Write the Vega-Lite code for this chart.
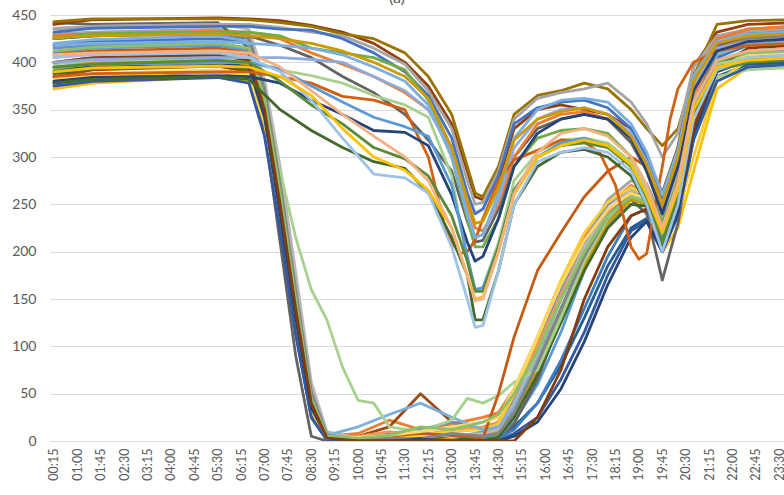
{
"$schema":"https://vega.github.io/schema/vega-lite/v6.json",
"width":734,"height":426,
"autosize":{"type":"none"},
"padding":{"left":50,"top":15,"right":0,"bottom":54},
"background":"white",
"title":{"text":"(a)","fontSize":16,"font":"Lato","fontWeight":"normal","color":"#595959","anchor":"middle","offset":2,"dx":-20},
"config":{"view":{"stroke":null},"font":"Lato"},
"data":{"values":[
{"s":"a1","t":15,"v":418},{"s":"a1","t":90,"v":422},{"s":"a1","t":330,"v":425},{"s":"a1","t":390,"v":420},{"s":"a1","t":420,"v":360},{"s":"a1","t":450,"v":255},{"s":"a1","t":480,"v":140},{"s":"a1","t":510,"v":40},{"s":"a1","t":540,"v":3},{"s":"a1","t":600,"v":0},{"s":"a1","t":660,"v":2},{"s":"a1","t":720,"v":0},{"s":"a1","t":780,"v":5},{"s":"a1","t":840,"v":0},{"s":"a1","t":870,"v":8},{"s":"a1","t":900,"v":35},{"s":"a1","t":945,"v":90},{"s":"a1","t":990,"v":150},{"s":"a1","t":1035,"v":200},{"s":"a1","t":1080,"v":240},{"s":"a1","t":1125,"v":262},{"s":"a1","t":1155,"v":258},{"s":"a1","t":1185,"v":205},{"s":"a1","t":1215,"v":265},{"s":"a1","t":1245,"v":345},{"s":"a1","t":1290,"v":405},{"s":"a1","t":1350,"v":418},{"s":"a1","t":1440,"v":420},
{"s":"a2","t":15,"v":400},{"s":"a2","t":90,"v":405},{"s":"a2","t":330,"v":408},{"s":"a2","t":390,"v":402},{"s":"a2","t":420,"v":345},{"s":"a2","t":450,"v":240},{"s":"a2","t":480,"v":130},{"s":"a2","t":510,"v":35},{"s":"a2","t":540,"v":5},{"s":"a2","t":600,"v":8},{"s":"a2","t":660,"v":22},{"s":"a2","t":720,"v":12},{"s":"a2","t":780,"v":18},{"s":"a2","t":840,"v":25},{"s":"a2","t":870,"v":30},{"s":"a2","t":900,"v":55},{"s":"a2","t":945,"v":110},{"s":"a2","t":990,"v":165},{"s":"a2","t":1035,"v":215},{"s":"a2","t":1080,"v":250},{"s":"a2","t":1125,"v":270},{"s":"a2","t":1155,"v":262},{"s":"a2","t":1185,"v":220},{"s":"a2","t":1215,"v":285},{"s":"a2","t":1245,"v":365},{"s":"a2","t":1290,"v":415},{"s":"a2","t":1350,"v":428},{"s":"a2","t":1440,"v":430},
{"s":"a3","t":15,"v":430},{"s":"a3","t":90,"v":432},{"s":"a3","t":330,"v":435},{"s":"a3","t":390,"v":430},{"s":"a3","t":420,"v":375},{"s":"a3","t":450,"v":280},{"s":"a3","t":480,"v":165},{"s":"a3","t":510,"v":55},{"s":"a3","t":540,"v":8},{"s":"a3","t":600,"v":2},{"s":"a3","t":660,"v":5},{"s":"a3","t":720,"v":8},{"s":"a3","t":780,"v":3},{"s":"a3","t":840,"v":10},{"s":"a3","t":870,"v":15},{"s":"a3","t":900,"v":40},{"s":"a3","t":945,"v":95},{"s":"a3","t":990,"v":160},{"s":"a3","t":1035,"v":210},{"s":"a3","t":1080,"v":255},{"s":"a3","t":1125,"v":275},{"s":"a3","t":1155,"v":272},{"s":"a3","t":1185,"v":235},{"s":"a3","t":1215,"v":300},{"s":"a3","t":1245,"v":375},{"s":"a3","t":1290,"v":425},{"s":"a3","t":1350,"v":432},{"s":"a3","t":1440,"v":435},
{"s":"a4","t":15,"v":372},{"s":"a4","t":90,"v":378},{"s":"a4","t":330,"v":385},{"s":"a4","t":390,"v":380},{"s":"a4","t":420,"v":330},{"s":"a4","t":450,"v":240},{"s":"a4","t":480,"v":130},{"s":"a4","t":510,"v":35},{"s":"a4","t":540,"v":2},{"s":"a4","t":600,"v":0},{"s":"a4","t":660,"v":3},{"s":"a4","t":720,"v":0},{"s":"a4","t":780,"v":6},{"s":"a4","t":840,"v":2},{"s":"a4","t":870,"v":10},{"s":"a4","t":900,"v":45},{"s":"a4","t":945,"v":105},{"s":"a4","t":990,"v":165},{"s":"a4","t":1035,"v":210},{"s":"a4","t":1080,"v":245},{"s":"a4","t":1125,"v":262},{"s":"a4","t":1155,"v":255},{"s":"a4","t":1185,"v":200},{"s":"a4","t":1215,"v":225},{"s":"a4","t":1245,"v":285},{"s":"a4","t":1290,"v":372},{"s":"a4","t":1350,"v":395},{"s":"a4","t":1440,"v":400},
{"s":"a5","t":15,"v":410},{"s":"a5","t":90,"v":415},{"s":"a5","t":330,"v":418},{"s":"a5","t":390,"v":412},{"s":"a5","t":420,"v":355},{"s":"a5","t":450,"v":250},{"s":"a5","t":480,"v":138},{"s":"a5","t":510,"v":38},{"s":"a5","t":540,"v":4},{"s":"a5","t":600,"v":3},{"s":"a5","t":660,"v":0},{"s":"a5","t":720,"v":8},{"s":"a5","t":780,"v":2},{"s":"a5","t":840,"v":6},{"s":"a5","t":870,"v":6},{"s":"a5","t":900,"v":20},{"s":"a5","t":945,"v":60},{"s":"a5","t":990,"v":115},{"s":"a5","t":1035,"v":180},{"s":"a5","t":1080,"v":228},{"s":"a5","t":1125,"v":250},{"s":"a5","t":1155,"v":248},{"s":"a5","t":1185,"v":210},{"s":"a5","t":1215,"v":262},{"s":"a5","t":1245,"v":340},{"s":"a5","t":1290,"v":398},{"s":"a5","t":1350,"v":410},{"s":"a5","t":1440,"v":412},
{"s":"a6","t":15,"v":392},{"s":"a6","t":90,"v":398},{"s":"a6","t":330,"v":400},{"s":"a6","t":390,"v":395},{"s":"a6","t":420,"v":340},{"s":"a6","t":450,"v":235},{"s":"a6","t":480,"v":125},{"s":"a6","t":510,"v":30},{"s":"a6","t":540,"v":3},{"s":"a6","t":600,"v":0},{"s":"a6","t":660,"v":5},{"s":"a6","t":720,"v":3},{"s":"a6","t":780,"v":0},{"s":"a6","t":840,"v":4},{"s":"a6","t":870,"v":5},{"s":"a6","t":900,"v":30},{"s":"a6","t":945,"v":80},{"s":"a6","t":990,"v":135},{"s":"a6","t":1035,"v":188},{"s":"a6","t":1080,"v":232},{"s":"a6","t":1125,"v":258},{"s":"a6","t":1155,"v":252},{"s":"a6","t":1185,"v":205},{"s":"a6","t":1215,"v":250},{"s":"a6","t":1245,"v":330},{"s":"a6","t":1290,"v":392},{"s":"a6","t":1350,"v":405},{"s":"a6","t":1440,"v":408},
{"s":"a7","t":15,"v":378},{"s":"a7","t":90,"v":385},{"s":"a7","t":330,"v":390},{"s":"a7","t":390,"v":385},{"s":"a7","t":420,"v":325},{"s":"a7","t":450,"v":225},{"s":"a7","t":480,"v":115},{"s":"a7","t":510,"v":25},{"s":"a7","t":540,"v":1},{"s":"a7","t":600,"v":0},{"s":"a7","t":660,"v":0},{"s":"a7","t":720,"v":2},{"s":"a7","t":780,"v":0},{"s":"a7","t":840,"v":0},{"s":"a7","t":870,"v":2},{"s":"a7","t":900,"v":15},{"s":"a7","t":945,"v":40},{"s":"a7","t":990,"v":80},{"s":"a7","t":1035,"v":130},{"s":"a7","t":1080,"v":185},{"s":"a7","t":1125,"v":225},{"s":"a7","t":1155,"v":235},{"s":"a7","t":1185,"v":200},{"s":"a7","t":1215,"v":240},{"s":"a7","t":1245,"v":320},{"s":"a7","t":1290,"v":385},{"s":"a7","t":1350,"v":398},{"s":"a7","t":1440,"v":400},
{"s":"a8","t":15,"v":385},{"s":"a8","t":90,"v":392},{"s":"a8","t":330,"v":396},{"s":"a8","t":390,"v":390},{"s":"a8","t":420,"v":338},{"s":"a8","t":450,"v":238},{"s":"a8","t":480,"v":128},{"s":"a8","t":510,"v":32},{"s":"a8","t":540,"v":4},{"s":"a8","t":600,"v":5},{"s":"a8","t":660,"v":15},{"s":"a8","t":720,"v":50},{"s":"a8","t":780,"v":20},{"s":"a8","t":840,"v":12},{"s":"a8","t":870,"v":20},{"s":"a8","t":900,"v":45},{"s":"a8","t":945,"v":95},{"s":"a8","t":990,"v":150},{"s":"a8","t":1035,"v":200},{"s":"a8","t":1080,"v":238},{"s":"a8","t":1125,"v":260},{"s":"a8","t":1155,"v":255},{"s":"a8","t":1185,"v":215},{"s":"a8","t":1215,"v":270},{"s":"a8","t":1245,"v":350},{"s":"a8","t":1290,"v":405},{"s":"a8","t":1350,"v":420},{"s":"a8","t":1440,"v":422},
{"s":"a9","t":15,"v":442},{"s":"a9","t":90,"v":440},{"s":"a9","t":330,"v":442},{"s":"a9","t":390,"v":415},{"s":"a9","t":420,"v":330},{"s":"a9","t":450,"v":210},{"s":"a9","t":480,"v":90},{"s":"a9","t":510,"v":5},{"s":"a9","t":540,"v":0},{"s":"a9","t":600,"v":0},{"s":"a9","t":660,"v":3},{"s":"a9","t":720,"v":0},{"s":"a9","t":780,"v":2},{"s":"a9","t":840,"v":0},{"s":"a9","t":870,"v":0},{"s":"a9","t":900,"v":18},{"s":"a9","t":945,"v":65},{"s":"a9","t":990,"v":130},{"s":"a9","t":1035,"v":190},{"s":"a9","t":1080,"v":235},{"s":"a9","t":1125,"v":255},{"s":"a9","t":1155,"v":240},{"s":"a9","t":1185,"v":170},{"s":"a9","t":1215,"v":230},{"s":"a9","t":1245,"v":320},{"s":"a9","t":1290,"v":390},{"s":"a9","t":1350,"v":405},{"s":"a9","t":1440,"v":408},
{"s":"a10","t":15,"v":395},{"s":"a10","t":90,"v":400},{"s":"a10","t":330,"v":402},{"s":"a10","t":390,"v":398},{"s":"a10","t":420,"v":350},{"s":"a10","t":450,"v":255},{"s":"a10","t":480,"v":145},{"s":"a10","t":510,"v":45},{"s":"a10","t":540,"v":5},{"s":"a10","t":600,"v":2},{"s":"a10","t":660,"v":4},{"s":"a10","t":720,"v":1},{"s":"a10","t":780,"v":3},{"s":"a10","t":840,"v":8},{"s":"a10","t":870,"v":10},{"s":"a10","t":900,"v":30},{"s":"a10","t":945,"v":75},{"s":"a10","t":990,"v":130},{"s":"a10","t":1035,"v":185},{"s":"a10","t":1080,"v":230},{"s":"a10","t":1125,"v":255},{"s":"a10","t":1155,"v":250},{"s":"a10","t":1185,"v":215},{"s":"a10","t":1215,"v":255},{"s":"a10","t":1245,"v":330},{"s":"a10","t":1290,"v":390},{"s":"a10","t":1350,"v":402},{"s":"a10","t":1440,"v":405},
{"s":"a11","t":15,"v":425},{"s":"a11","t":90,"v":428},{"s":"a11","t":330,"v":430},{"s":"a11","t":390,"v":425},{"s":"a11","t":420,"v":370},{"s":"a11","t":450,"v":270},{"s":"a11","t":480,"v":155},{"s":"a11","t":510,"v":50},{"s":"a11","t":540,"v":6},{"s":"a11","t":600,"v":0},{"s":"a11","t":660,"v":2},{"s":"a11","t":720,"v":0},{"s":"a11","t":780,"v":0},{"s":"a11","t":840,"v":3},{"s":"a11","t":870,"v":3},{"s":"a11","t":900,"v":12},{"s":"a11","t":945,"v":40},{"s":"a11","t":990,"v":85},{"s":"a11","t":1035,"v":140},{"s":"a11","t":1080,"v":195},{"s":"a11","t":1125,"v":238},{"s":"a11","t":1155,"v":245},{"s":"a11","t":1185,"v":205},{"s":"a11","t":1215,"v":255},{"s":"a11","t":1245,"v":340},{"s":"a11","t":1290,"v":405},{"s":"a11","t":1350,"v":420},{"s":"a11","t":1440,"v":422},
{"s":"a12","t":15,"v":388},{"s":"a12","t":90,"v":393},{"s":"a12","t":330,"v":397},{"s":"a12","t":390,"v":392},{"s":"a12","t":420,"v":335},{"s":"a12","t":450,"v":232},{"s":"a12","t":480,"v":122},{"s":"a12","t":510,"v":28},{"s":"a12","t":540,"v":2},{"s":"a12","t":600,"v":0},{"s":"a12","t":660,"v":0},{"s":"a12","t":720,"v":3},{"s":"a12","t":780,"v":5},{"s":"a12","t":840,"v":0},{"s":"a12","t":870,"v":4},{"s":"a12","t":900,"v":25},{"s":"a12","t":945,"v":70},{"s":"a12","t":990,"v":125},{"s":"a12","t":1035,"v":180},{"s":"a12","t":1080,"v":225},{"s":"a12","t":1125,"v":250},{"s":"a12","t":1155,"v":248},{"s":"a12","t":1185,"v":210},{"s":"a12","t":1215,"v":258},{"s":"a12","t":1245,"v":335},{"s":"a12","t":1290,"v":392},{"s":"a12","t":1350,"v":405},{"s":"a12","t":1440,"v":408},
{"s":"a13","t":15,"v":415},{"s":"a13","t":90,"v":418},{"s":"a13","t":330,"v":420},{"s":"a13","t":390,"v":415},{"s":"a13","t":420,"v":358},{"s":"a13","t":450,"v":255},{"s":"a13","t":480,"v":142},{"s":"a13","t":510,"v":42},{"s":"a13","t":540,"v":5},{"s":"a13","t":600,"v":3},{"s":"a13","t":660,"v":8},{"s":"a13","t":720,"v":12},{"s":"a13","t":780,"v":20},{"s":"a13","t":840,"v":10},{"s":"a13","t":870,"v":18},{"s":"a13","t":900,"v":45},{"s":"a13","t":945,"v":100},{"s":"a13","t":990,"v":160},{"s":"a13","t":1035,"v":210},{"s":"a13","t":1080,"v":250},{"s":"a13","t":1125,"v":268},{"s":"a13","t":1155,"v":262},{"s":"a13","t":1185,"v":222},{"s":"a13","t":1215,"v":275},{"s":"a13","t":1245,"v":352},{"s":"a13","t":1290,"v":408},{"s":"a13","t":1350,"v":420},{"s":"a13","t":1440,"v":422},
{"s":"a14","t":15,"v":405},{"s":"a14","t":90,"v":410},{"s":"a14","t":330,"v":412},{"s":"a14","t":390,"v":408},{"s":"a14","t":420,"v":352},{"s":"a14","t":450,"v":248},{"s":"a14","t":480,"v":136},{"s":"a14","t":510,"v":36},{"s":"a14","t":540,"v":3},{"s":"a14","t":600,"v":5},{"s":"a14","t":660,"v":10},{"s":"a14","t":720,"v":6},{"s":"a14","t":780,"v":12},{"s":"a14","t":840,"v":15},{"s":"a14","t":870,"v":20},{"s":"a14","t":900,"v":48},{"s":"a14","t":945,"v":100},{"s":"a14","t":990,"v":155},{"s":"a14","t":1035,"v":205},{"s":"a14","t":1080,"v":242},{"s":"a14","t":1125,"v":262},{"s":"a14","t":1155,"v":258},{"s":"a14","t":1185,"v":225},{"s":"a14","t":1215,"v":280},{"s":"a14","t":1245,"v":358},{"s":"a14","t":1290,"v":410},{"s":"a14","t":1350,"v":422},{"s":"a14","t":1440,"v":425},
{"s":"a15","t":15,"v":436},{"s":"a15","t":90,"v":438},{"s":"a15","t":330,"v":440},{"s":"a15","t":390,"v":435},{"s":"a15","t":420,"v":382},{"s":"a15","t":450,"v":290},{"s":"a15","t":480,"v":178},{"s":"a15","t":510,"v":62},{"s":"a15","t":540,"v":10},{"s":"a15","t":600,"v":3},{"s":"a15","t":660,"v":6},{"s":"a15","t":720,"v":10},{"s":"a15","t":780,"v":4},{"s":"a15","t":840,"v":8},{"s":"a15","t":870,"v":12},{"s":"a15","t":900,"v":40},{"s":"a15","t":945,"v":92},{"s":"a15","t":990,"v":150},{"s":"a15","t":1035,"v":205},{"s":"a15","t":1080,"v":245},{"s":"a15","t":1125,"v":265},{"s":"a15","t":1155,"v":262},{"s":"a15","t":1185,"v":225},{"s":"a15","t":1215,"v":290},{"s":"a15","t":1245,"v":370},{"s":"a15","t":1290,"v":420},{"s":"a15","t":1350,"v":430},{"s":"a15","t":1440,"v":432},
{"s":"a16","t":15,"v":380},{"s":"a16","t":90,"v":386},{"s":"a16","t":330,"v":390},{"s":"a16","t":390,"v":386},{"s":"a16","t":420,"v":335},{"s":"a16","t":450,"v":238},{"s":"a16","t":480,"v":128},{"s":"a16","t":510,"v":32},{"s":"a16","t":540,"v":2},{"s":"a16","t":600,"v":0},{"s":"a16","t":660,"v":4},{"s":"a16","t":720,"v":6},{"s":"a16","t":780,"v":10},{"s":"a16","t":840,"v":12},{"s":"a16","t":870,"v":18},{"s":"a16","t":900,"v":50},{"s":"a16","t":945,"v":110},{"s":"a16","t":990,"v":170},{"s":"a16","t":1035,"v":220},{"s":"a16","t":1080,"v":252},{"s":"a16","t":1125,"v":268},{"s":"a16","t":1155,"v":260},{"s":"a16","t":1185,"v":215},{"s":"a16","t":1215,"v":240},{"s":"a16","t":1245,"v":300},{"s":"a16","t":1290,"v":380},{"s":"a16","t":1350,"v":402},{"s":"a16","t":1440,"v":406},
{"s":"a17","t":15,"v":420},{"s":"a17","t":90,"v":424},{"s":"a17","t":330,"v":428},{"s":"a17","t":390,"v":422},{"s":"a17","t":420,"v":368},{"s":"a17","t":450,"v":268},{"s":"a17","t":480,"v":155},{"s":"a17","t":510,"v":48},{"s":"a17","t":540,"v":6},{"s":"a17","t":600,"v":15},{"s":"a17","t":660,"v":28},{"s":"a17","t":720,"v":40},{"s":"a17","t":780,"v":25},{"s":"a17","t":840,"v":12},{"s":"a17","t":870,"v":15},{"s":"a17","t":900,"v":35},{"s":"a17","t":945,"v":85},{"s":"a17","t":990,"v":140},{"s":"a17","t":1035,"v":195},{"s":"a17","t":1080,"v":238},{"s":"a17","t":1125,"v":260},{"s":"a17","t":1155,"v":255},{"s":"a17","t":1185,"v":215},{"s":"a17","t":1215,"v":270},{"s":"a17","t":1245,"v":350},{"s":"a17","t":1290,"v":408},{"s":"a17","t":1350,"v":420},{"s":"a17","t":1440,"v":422},
{"s":"a18","t":15,"v":398},{"s":"a18","t":90,"v":402},{"s":"a18","t":330,"v":404},{"s":"a18","t":390,"v":400},{"s":"a18","t":420,"v":365},{"s":"a18","t":450,"v":285},{"s":"a18","t":480,"v":215},{"s":"a18","t":510,"v":160},{"s":"a18","t":540,"v":128},{"s":"a18","t":570,"v":78},{"s":"a18","t":600,"v":43},{"s":"a18","t":630,"v":40},{"s":"a18","t":660,"v":15},{"s":"a18","t":720,"v":10},{"s":"a18","t":780,"v":22},{"s":"a18","t":810,"v":45},{"s":"a18","t":840,"v":40},{"s":"a18","t":870,"v":48},{"s":"a18","t":900,"v":62},{"s":"a18","t":945,"v":75},{"s":"a18","t":990,"v":130},{"s":"a18","t":1035,"v":190},{"s":"a18","t":1080,"v":235},{"s":"a18","t":1125,"v":260},{"s":"a18","t":1155,"v":258},{"s":"a18","t":1185,"v":225},{"s":"a18","t":1215,"v":265},{"s":"a18","t":1245,"v":330},{"s":"a18","t":1290,"v":385},{"s":"a18","t":1350,"v":392},{"s":"a18","t":1440,"v":395},
{"s":"a19","t":15,"v":375},{"s":"a19","t":90,"v":380},{"s":"a19","t":330,"v":384},{"s":"a19","t":390,"v":378},{"s":"a19","t":420,"v":322},{"s":"a19","t":450,"v":222},{"s":"a19","t":480,"v":112},{"s":"a19","t":510,"v":25},{"s":"a19","t":540,"v":1},{"s":"a19","t":600,"v":0},{"s":"a19","t":660,"v":0},{"s":"a19","t":720,"v":0},{"s":"a19","t":780,"v":0},{"s":"a19","t":840,"v":0},{"s":"a19","t":870,"v":0},{"s":"a19","t":900,"v":8},{"s":"a19","t":945,"v":25},{"s":"a19","t":990,"v":65},{"s":"a19","t":1035,"v":115},{"s":"a19","t":1080,"v":175},{"s":"a19","t":1125,"v":222},{"s":"a19","t":1155,"v":232},{"s":"a19","t":1185,"v":200},{"s":"a19","t":1215,"v":238},{"s":"a19","t":1245,"v":318},{"s":"a19","t":1290,"v":380},{"s":"a19","t":1350,"v":395},{"s":"a19","t":1440,"v":398},
{"s":"a20","t":15,"v":408},{"s":"a20","t":90,"v":412},{"s":"a20","t":330,"v":415},{"s":"a20","t":390,"v":410},{"s":"a20","t":420,"v":355},{"s":"a20","t":450,"v":252},{"s":"a20","t":480,"v":140},{"s":"a20","t":510,"v":40},{"s":"a20","t":540,"v":4},{"s":"a20","t":600,"v":2},{"s":"a20","t":660,"v":5},{"s":"a20","t":720,"v":8},{"s":"a20","t":780,"v":6},{"s":"a20","t":840,"v":3},{"s":"a20","t":870,"v":50},{"s":"a20","t":900,"v":110},{"s":"a20","t":945,"v":180},{"s":"a20","t":990,"v":220},{"s":"a20","t":1035,"v":258},{"s":"a20","t":1080,"v":285},{"s":"a20","t":1125,"v":300},{"s":"a20","t":1155,"v":290},{"s":"a20","t":1185,"v":250},{"s":"a20","t":1215,"v":310},{"s":"a20","t":1245,"v":385},{"s":"a20","t":1290,"v":425},{"s":"a20","t":1350,"v":435},{"s":"a20","t":1440,"v":438},
{"s":"a21","t":15,"v":428},{"s":"a21","t":90,"v":430},{"s":"a21","t":330,"v":432},{"s":"a21","t":390,"v":426},{"s":"a21","t":420,"v":372},{"s":"a21","t":450,"v":272},{"s":"a21","t":480,"v":160},{"s":"a21","t":510,"v":52},{"s":"a21","t":540,"v":6},{"s":"a21","t":600,"v":0},{"s":"a21","t":660,"v":3},{"s":"a21","t":720,"v":2},{"s":"a21","t":780,"v":8},{"s":"a21","t":840,"v":5},{"s":"a21","t":870,"v":8},{"s":"a21","t":900,"v":30},{"s":"a21","t":945,"v":82},{"s":"a21","t":990,"v":140},{"s":"a21","t":1035,"v":195},{"s":"a21","t":1080,"v":238},{"s":"a21","t":1125,"v":262},{"s":"a21","t":1155,"v":258},{"s":"a21","t":1185,"v":218},{"s":"a21","t":1215,"v":275},{"s":"a21","t":1245,"v":355},{"s":"a21","t":1290,"v":412},{"s":"a21","t":1350,"v":425},{"s":"a21","t":1440,"v":428},
{"s":"a22","t":15,"v":382},{"s":"a22","t":90,"v":388},{"s":"a22","t":330,"v":392},{"s":"a22","t":390,"v":388},{"s":"a22","t":420,"v":340},{"s":"a22","t":450,"v":245},{"s":"a22","t":480,"v":135},{"s":"a22","t":510,"v":38},{"s":"a22","t":540,"v":3},{"s":"a22","t":600,"v":4},{"s":"a22","t":660,"v":6},{"s":"a22","t":720,"v":10},{"s":"a22","t":780,"v":15},{"s":"a22","t":840,"v":20},{"s":"a22","t":870,"v":25},{"s":"a22","t":900,"v":55},{"s":"a22","t":945,"v":110},{"s":"a22","t":990,"v":165},{"s":"a22","t":1035,"v":212},{"s":"a22","t":1080,"v":245},{"s":"a22","t":1125,"v":262},{"s":"a22","t":1155,"v":256},{"s":"a22","t":1185,"v":218},{"s":"a22","t":1215,"v":262},{"s":"a22","t":1245,"v":340},{"s":"a22","t":1290,"v":395},{"s":"a22","t":1350,"v":408},{"s":"a22","t":1440,"v":410},
{"s":"a23","t":15,"v":390},{"s":"a23","t":90,"v":396},{"s":"a23","t":330,"v":400},{"s":"a23","t":390,"v":395},{"s":"a23","t":420,"v":342},{"s":"a23","t":450,"v":240},{"s":"a23","t":480,"v":130},{"s":"a23","t":510,"v":35},{"s":"a23","t":540,"v":4},{"s":"a23","t":600,"v":0},{"s":"a23","t":660,"v":0},{"s":"a23","t":720,"v":2},{"s":"a23","t":780,"v":0},{"s":"a23","t":840,"v":0},{"s":"a23","t":870,"v":0},{"s":"a23","t":900,"v":5},{"s":"a23","t":945,"v":20},{"s":"a23","t":990,"v":55},{"s":"a23","t":1035,"v":105},{"s":"a23","t":1080,"v":165},{"s":"a23","t":1125,"v":215},{"s":"a23","t":1155,"v":232},{"s":"a23","t":1185,"v":200},{"s":"a23","t":1215,"v":242},{"s":"a23","t":1245,"v":325},{"s":"a23","t":1290,"v":390},{"s":"a23","t":1350,"v":402},{"s":"a23","t":1440,"v":405},
{"s":"a24","t":15,"v":412},{"s":"a24","t":90,"v":416},{"s":"a24","t":330,"v":420},{"s":"a24","t":390,"v":415},{"s":"a24","t":420,"v":362},{"s":"a24","t":450,"v":262},{"s":"a24","t":480,"v":150},{"s":"a24","t":510,"v":45},{"s":"a24","t":540,"v":5},{"s":"a24","t":600,"v":3},{"s":"a24","t":660,"v":6},{"s":"a24","t":720,"v":15},{"s":"a24","t":780,"v":12},{"s":"a24","t":840,"v":20},{"s":"a24","t":870,"v":28},{"s":"a24","t":900,"v":50},{"s":"a24","t":945,"v":95},{"s":"a24","t":990,"v":150},{"s":"a24","t":1035,"v":200},{"s":"a24","t":1080,"v":238},{"s":"a24","t":1125,"v":258},{"s":"a24","t":1155,"v":252},{"s":"a24","t":1185,"v":215},{"s":"a24","t":1215,"v":265},{"s":"a24","t":1245,"v":345},{"s":"a24","t":1290,"v":400},{"s":"a24","t":1350,"v":410},{"s":"a24","t":1440,"v":412},
{"s":"a25","t":15,"v":400},{"s":"a25","t":90,"v":405},{"s":"a25","t":330,"v":408},{"s":"a25","t":390,"v":402},{"s":"a25","t":420,"v":350},{"s":"a25","t":450,"v":250},{"s":"a25","t":480,"v":140},{"s":"a25","t":510,"v":40},{"s":"a25","t":540,"v":3},{"s":"a25","t":600,"v":0},{"s":"a25","t":660,"v":0},{"s":"a25","t":720,"v":0},{"s":"a25","t":780,"v":0},{"s":"a25","t":840,"v":0},{"s":"a25","t":870,"v":0},{"s":"a25","t":900,"v":0},{"s":"a25","t":945,"v":25},{"s":"a25","t":990,"v":75},{"s":"a25","t":1035,"v":150},{"s":"a25","t":1080,"v":205},{"s":"a25","t":1125,"v":238},{"s":"a25","t":1155,"v":245},{"s":"a25","t":1185,"v":215},{"s":"a25","t":1215,"v":250},{"s":"a25","t":1245,"v":330},{"s":"a25","t":1290,"v":395},{"s":"a25","t":1350,"v":415},{"s":"a25","t":1440,"v":418},
{"s":"b1","t":15,"v":440},{"s":"b1","t":90,"v":445},{"s":"b1","t":330,"v":447},{"s":"b1","t":390,"v":446},{"s":"b1","t":450,"v":444},{"s":"b1","t":510,"v":439},{"s":"b1","t":570,"v":432},{"s":"b1","t":630,"v":420},{"s":"b1","t":690,"v":400},{"s":"b1","t":735,"v":375},{"s":"b1","t":780,"v":335},{"s":"b1","t":810,"v":285},{"s":"b1","t":825,"v":258},{"s":"b1","t":840,"v":255},{"s":"b1","t":870,"v":275},{"s":"b1","t":900,"v":330},{"s":"b1","t":945,"v":350},{"s":"b1","t":990,"v":355},{"s":"b1","t":1035,"v":350},{"s":"b1","t":1080,"v":345},{"s":"b1","t":1125,"v":330},{"s":"b1","t":1155,"v":300},{"s":"b1","t":1185,"v":262},{"s":"b1","t":1215,"v":310},{"s":"b1","t":1245,"v":395},{"s":"b1","t":1290,"v":432},{"s":"b1","t":1350,"v":440},{"s":"b1","t":1440,"v":442},
{"s":"b2","t":15,"v":443},{"s":"b2","t":90,"v":446},{"s":"b2","t":330,"v":446},{"s":"b2","t":390,"v":445},{"s":"b2","t":450,"v":442},{"s":"b2","t":510,"v":438},{"s":"b2","t":570,"v":430},{"s":"b2","t":630,"v":425},{"s":"b2","t":690,"v":410},{"s":"b2","t":735,"v":385},{"s":"b2","t":780,"v":345},{"s":"b2","t":810,"v":290},{"s":"b2","t":825,"v":262},{"s":"b2","t":840,"v":258},{"s":"b2","t":870,"v":290},{"s":"b2","t":900,"v":345},{"s":"b2","t":945,"v":365},{"s":"b2","t":990,"v":370},{"s":"b2","t":1035,"v":378},{"s":"b2","t":1080,"v":372},{"s":"b2","t":1125,"v":350},{"s":"b2","t":1155,"v":330},{"s":"b2","t":1185,"v":312},{"s":"b2","t":1215,"v":330},{"s":"b2","t":1245,"v":385},{"s":"b2","t":1290,"v":440},{"s":"b2","t":1350,"v":444},{"s":"b2","t":1440,"v":445},
{"s":"b3","t":15,"v":435},{"s":"b3","t":90,"v":438},{"s":"b3","t":330,"v":440},{"s":"b3","t":390,"v":440},{"s":"b3","t":450,"v":437},{"s":"b3","t":510,"v":432},{"s":"b3","t":570,"v":428},{"s":"b3","t":630,"v":415},{"s":"b3","t":690,"v":398},{"s":"b3","t":735,"v":370},{"s":"b3","t":780,"v":330},{"s":"b3","t":810,"v":275},{"s":"b3","t":825,"v":250},{"s":"b3","t":840,"v":252},{"s":"b3","t":870,"v":285},{"s":"b3","t":900,"v":340},{"s":"b3","t":945,"v":362},{"s":"b3","t":990,"v":368},{"s":"b3","t":1035,"v":372},{"s":"b3","t":1080,"v":378},{"s":"b3","t":1125,"v":358},{"s":"b3","t":1155,"v":335},{"s":"b3","t":1185,"v":300},{"s":"b3","t":1215,"v":325},{"s":"b3","t":1245,"v":395},{"s":"b3","t":1290,"v":428},{"s":"b3","t":1350,"v":435},{"s":"b3","t":1440,"v":437},
{"s":"b4","t":15,"v":432},{"s":"b4","t":90,"v":436},{"s":"b4","t":330,"v":438},{"s":"b4","t":390,"v":438},{"s":"b4","t":450,"v":435},{"s":"b4","t":510,"v":434},{"s":"b4","t":570,"v":425},{"s":"b4","t":630,"v":410},{"s":"b4","t":690,"v":390},{"s":"b4","t":735,"v":365},{"s":"b4","t":780,"v":320},{"s":"b4","t":810,"v":262},{"s":"b4","t":825,"v":240},{"s":"b4","t":840,"v":245},{"s":"b4","t":870,"v":280},{"s":"b4","t":900,"v":335},{"s":"b4","t":945,"v":352},{"s":"b4","t":990,"v":358},{"s":"b4","t":1035,"v":360},{"s":"b4","t":1080,"v":352},{"s":"b4","t":1125,"v":330},{"s":"b4","t":1155,"v":300},{"s":"b4","t":1185,"v":255},{"s":"b4","t":1215,"v":305},{"s":"b4","t":1245,"v":385},{"s":"b4","t":1290,"v":420},{"s":"b4","t":1350,"v":430},{"s":"b4","t":1440,"v":432},
{"s":"b5","t":15,"v":425},{"s":"b5","t":90,"v":428},{"s":"b5","t":330,"v":432},{"s":"b5","t":390,"v":428},{"s":"b5","t":450,"v":418},{"s":"b5","t":510,"v":405},{"s":"b5","t":570,"v":385},{"s":"b5","t":630,"v":368},{"s":"b5","t":690,"v":345},{"s":"b5","t":735,"v":318},{"s":"b5","t":780,"v":285},{"s":"b5","t":810,"v":232},{"s":"b5","t":825,"v":210},{"s":"b5","t":840,"v":212},{"s":"b5","t":870,"v":245},{"s":"b5","t":900,"v":300},{"s":"b5","t":945,"v":330},{"s":"b5","t":990,"v":340},{"s":"b5","t":1035,"v":345},{"s":"b5","t":1080,"v":340},{"s":"b5","t":1125,"v":315},{"s":"b5","t":1155,"v":285},{"s":"b5","t":1185,"v":240},{"s":"b5","t":1215,"v":295},{"s":"b5","t":1245,"v":380},{"s":"b5","t":1290,"v":418},{"s":"b5","t":1350,"v":428},{"s":"b5","t":1440,"v":430},
{"s":"b6","t":15,"v":428},{"s":"b6","t":90,"v":430},{"s":"b6","t":330,"v":433},{"s":"b6","t":390,"v":432},{"s":"b6","t":450,"v":425},{"s":"b6","t":510,"v":410},{"s":"b6","t":570,"v":398},{"s":"b6","t":630,"v":385},{"s":"b6","t":690,"v":368},{"s":"b6","t":735,"v":350},{"s":"b6","t":780,"v":310},{"s":"b6","t":810,"v":250},{"s":"b6","t":825,"v":225},{"s":"b6","t":840,"v":222},{"s":"b6","t":870,"v":250},{"s":"b6","t":900,"v":300},{"s":"b6","t":945,"v":335},{"s":"b6","t":990,"v":345},{"s":"b6","t":1035,"v":348},{"s":"b6","t":1080,"v":340},{"s":"b6","t":1125,"v":320},{"s":"b6","t":1155,"v":290},{"s":"b6","t":1185,"v":245},{"s":"b6","t":1215,"v":295},{"s":"b6","t":1245,"v":385},{"s":"b6","t":1290,"v":425},{"s":"b6","t":1350,"v":435},{"s":"b6","t":1440,"v":438},
{"s":"b7","t":15,"v":425},{"s":"b7","t":90,"v":430},{"s":"b7","t":330,"v":432},{"s":"b7","t":390,"v":432},{"s":"b7","t":450,"v":428},{"s":"b7","t":510,"v":415},{"s":"b7","t":570,"v":410},{"s":"b7","t":630,"v":405},{"s":"b7","t":690,"v":392},{"s":"b7","t":735,"v":360},{"s":"b7","t":780,"v":300},{"s":"b7","t":810,"v":235},{"s":"b7","t":825,"v":205},{"s":"b7","t":840,"v":205},{"s":"b7","t":870,"v":235},{"s":"b7","t":900,"v":290},{"s":"b7","t":945,"v":320},{"s":"b7","t":990,"v":328},{"s":"b7","t":1035,"v":330},{"s":"b7","t":1080,"v":325},{"s":"b7","t":1125,"v":300},{"s":"b7","t":1155,"v":270},{"s":"b7","t":1185,"v":230},{"s":"b7","t":1215,"v":275},{"s":"b7","t":1245,"v":355},{"s":"b7","t":1290,"v":400},{"s":"b7","t":1350,"v":412},{"s":"b7","t":1440,"v":415},
{"s":"b8","t":15,"v":400},{"s":"b8","t":90,"v":403},{"s":"b8","t":330,"v":405},{"s":"b8","t":390,"v":405},{"s":"b8","t":450,"v":405},{"s":"b8","t":510,"v":403},{"s":"b8","t":570,"v":400},{"s":"b8","t":630,"v":385},{"s":"b8","t":690,"v":370},{"s":"b8","t":735,"v":350},{"s":"b8","t":780,"v":305},{"s":"b8","t":810,"v":240},{"s":"b8","t":825,"v":215},{"s":"b8","t":840,"v":218},{"s":"b8","t":870,"v":255},{"s":"b8","t":900,"v":310},{"s":"b8","t":945,"v":340},{"s":"b8","t":990,"v":350},{"s":"b8","t":1035,"v":352},{"s":"b8","t":1080,"v":345},{"s":"b8","t":1125,"v":325},{"s":"b8","t":1155,"v":295},{"s":"b8","t":1185,"v":250},{"s":"b8","t":1215,"v":300},{"s":"b8","t":1245,"v":380},{"s":"b8","t":1290,"v":415},{"s":"b8","t":1350,"v":422},{"s":"b8","t":1440,"v":425},
{"s":"b9","t":15,"v":395},{"s":"b9","t":90,"v":398},{"s":"b9","t":330,"v":400},{"s":"b9","t":390,"v":400},{"s":"b9","t":450,"v":392},{"s":"b9","t":510,"v":386},{"s":"b9","t":570,"v":378},{"s":"b9","t":630,"v":365},{"s":"b9","t":690,"v":355},{"s":"b9","t":735,"v":342},{"s":"b9","t":780,"v":280},{"s":"b9","t":810,"v":190},{"s":"b9","t":825,"v":160},{"s":"b9","t":840,"v":162},{"s":"b9","t":870,"v":210},{"s":"b9","t":900,"v":275},{"s":"b9","t":945,"v":305},{"s":"b9","t":990,"v":318},{"s":"b9","t":1035,"v":320},{"s":"b9","t":1080,"v":315},{"s":"b9","t":1125,"v":295},{"s":"b9","t":1155,"v":265},{"s":"b9","t":1185,"v":225},{"s":"b9","t":1215,"v":270},{"s":"b9","t":1245,"v":355},{"s":"b9","t":1290,"v":398},{"s":"b9","t":1350,"v":405},{"s":"b9","t":1440,"v":408},
{"s":"b10","t":15,"v":385},{"s":"b10","t":90,"v":388},{"s":"b10","t":330,"v":390},{"s":"b10","t":390,"v":390},{"s":"b10","t":450,"v":385},{"s":"b10","t":510,"v":378},{"s":"b10","t":570,"v":364},{"s":"b10","t":630,"v":360},{"s":"b10","t":690,"v":350},{"s":"b10","t":735,"v":300},{"s":"b10","t":765,"v":230},{"s":"b10","t":780,"v":210},{"s":"b10","t":795,"v":198},{"s":"b10","t":810,"v":200},{"s":"b10","t":825,"v":212},{"s":"b10","t":840,"v":235},{"s":"b10","t":870,"v":275},{"s":"b10","t":900,"v":297},{"s":"b10","t":945,"v":307},{"s":"b10","t":990,"v":318},{"s":"b10","t":1035,"v":316},{"s":"b10","t":1065,"v":304},{"s":"b10","t":1095,"v":270},{"s":"b10","t":1125,"v":205},{"s":"b10","t":1140,"v":192},{"s":"b10","t":1155,"v":198},{"s":"b10","t":1170,"v":245},{"s":"b10","t":1185,"v":290},{"s":"b10","t":1200,"v":340},{"s":"b10","t":1215,"v":372},{"s":"b10","t":1245,"v":400},{"s":"b10","t":1290,"v":412},{"s":"b10","t":1350,"v":418},{"s":"b10","t":1440,"v":420},
{"s":"b11","t":15,"v":380},{"s":"b11","t":90,"v":384},{"s":"b11","t":330,"v":386},{"s":"b11","t":390,"v":385},{"s":"b11","t":450,"v":378},{"s":"b11","t":510,"v":360},{"s":"b11","t":570,"v":345},{"s":"b11","t":630,"v":328},{"s":"b11","t":690,"v":326},{"s":"b11","t":735,"v":312},{"s":"b11","t":780,"v":260},{"s":"b11","t":810,"v":210},{"s":"b11","t":825,"v":190},{"s":"b11","t":840,"v":195},{"s":"b11","t":870,"v":235},{"s":"b11","t":900,"v":290},{"s":"b11","t":945,"v":325},{"s":"b11","t":990,"v":340},{"s":"b11","t":1035,"v":345},{"s":"b11","t":1080,"v":340},{"s":"b11","t":1125,"v":320},{"s":"b11","t":1155,"v":285},{"s":"b11","t":1185,"v":240},{"s":"b11","t":1215,"v":290},{"s":"b11","t":1245,"v":370},{"s":"b11","t":1290,"v":412},{"s":"b11","t":1350,"v":422},{"s":"b11","t":1440,"v":425},
{"s":"b12","t":15,"v":395},{"s":"b12","t":90,"v":398},{"s":"b12","t":330,"v":400},{"s":"b12","t":390,"v":400},{"s":"b12","t":450,"v":393},{"s":"b12","t":510,"v":375},{"s":"b12","t":570,"v":358},{"s":"b12","t":630,"v":342},{"s":"b12","t":690,"v":332},{"s":"b12","t":735,"v":322},{"s":"b12","t":780,"v":270},{"s":"b12","t":810,"v":195},{"s":"b12","t":825,"v":160},{"s":"b12","t":840,"v":162},{"s":"b12","t":870,"v":205},{"s":"b12","t":900,"v":265},{"s":"b12","t":945,"v":300},{"s":"b12","t":990,"v":315},{"s":"b12","t":1035,"v":320},{"s":"b12","t":1080,"v":312},{"s":"b12","t":1125,"v":290},{"s":"b12","t":1155,"v":260},{"s":"b12","t":1185,"v":215},{"s":"b12","t":1215,"v":265},{"s":"b12","t":1245,"v":350},{"s":"b12","t":1290,"v":402},{"s":"b12","t":1350,"v":412},{"s":"b12","t":1440,"v":415},
{"s":"b13","t":15,"v":378},{"s":"b13","t":90,"v":382},{"s":"b13","t":330,"v":385},{"s":"b13","t":390,"v":382},{"s":"b13","t":450,"v":350},{"s":"b13","t":510,"v":328},{"s":"b13","t":570,"v":310},{"s":"b13","t":630,"v":295},{"s":"b13","t":690,"v":288},{"s":"b13","t":735,"v":262},{"s":"b13","t":780,"v":215},{"s":"b13","t":810,"v":175},{"s":"b13","t":825,"v":128},{"s":"b13","t":840,"v":128},{"s":"b13","t":870,"v":180},{"s":"b13","t":900,"v":250},{"s":"b13","t":945,"v":290},{"s":"b13","t":990,"v":305},{"s":"b13","t":1035,"v":308},{"s":"b13","t":1080,"v":300},{"s":"b13","t":1125,"v":280},{"s":"b13","t":1155,"v":250},{"s":"b13","t":1185,"v":205},{"s":"b13","t":1215,"v":255},{"s":"b13","t":1245,"v":345},{"s":"b13","t":1290,"v":392},{"s":"b13","t":1350,"v":400},{"s":"b13","t":1440,"v":402},
{"s":"b14","t":15,"v":395},{"s":"b14","t":90,"v":398},{"s":"b14","t":330,"v":402},{"s":"b14","t":390,"v":400},{"s":"b14","t":450,"v":380},{"s":"b14","t":510,"v":355},{"s":"b14","t":570,"v":335},{"s":"b14","t":630,"v":310},{"s":"b14","t":690,"v":298},{"s":"b14","t":735,"v":280},{"s":"b14","t":780,"v":238},{"s":"b14","t":810,"v":190},{"s":"b14","t":825,"v":158},{"s":"b14","t":840,"v":158},{"s":"b14","t":870,"v":205},{"s":"b14","t":900,"v":265},{"s":"b14","t":945,"v":300},{"s":"b14","t":990,"v":312},{"s":"b14","t":1035,"v":315},{"s":"b14","t":1080,"v":310},{"s":"b14","t":1125,"v":290},{"s":"b14","t":1155,"v":255},{"s":"b14","t":1185,"v":210},{"s":"b14","t":1215,"v":262},{"s":"b14","t":1245,"v":345},{"s":"b14","t":1290,"v":392},{"s":"b14","t":1350,"v":400},{"s":"b14","t":1440,"v":403},
{"s":"b15","t":15,"v":405},{"s":"b15","t":90,"v":408},{"s":"b15","t":330,"v":410},{"s":"b15","t":390,"v":405},{"s":"b15","t":450,"v":390},{"s":"b15","t":510,"v":360},{"s":"b15","t":570,"v":320},{"s":"b15","t":630,"v":282},{"s":"b15","t":690,"v":278},{"s":"b15","t":735,"v":262},{"s":"b15","t":780,"v":205},{"s":"b15","t":810,"v":150},{"s":"b15","t":825,"v":120},{"s":"b15","t":840,"v":122},{"s":"b15","t":870,"v":180},{"s":"b15","t":900,"v":250},{"s":"b15","t":945,"v":295},{"s":"b15","t":990,"v":305},{"s":"b15","t":1035,"v":310},{"s":"b15","t":1080,"v":305},{"s":"b15","t":1125,"v":285},{"s":"b15","t":1155,"v":250},{"s":"b15","t":1185,"v":200},{"s":"b15","t":1215,"v":250},{"s":"b15","t":1245,"v":340},{"s":"b15","t":1290,"v":392},{"s":"b15","t":1350,"v":405},{"s":"b15","t":1440,"v":408},
{"s":"b16","t":15,"v":390},{"s":"b16","t":90,"v":394},{"s":"b16","t":330,"v":396},{"s":"b16","t":390,"v":395},{"s":"b16","t":450,"v":385},{"s":"b16","t":510,"v":365},{"s":"b16","t":570,"v":330},{"s":"b16","t":630,"v":300},{"s":"b16","t":690,"v":286},{"s":"b16","t":735,"v":265},{"s":"b16","t":780,"v":225},{"s":"b16","t":810,"v":175},{"s":"b16","t":825,"v":150},{"s":"b16","t":840,"v":152},{"s":"b16","t":870,"v":200},{"s":"b16","t":900,"v":260},{"s":"b16","t":945,"v":300},{"s":"b16","t":990,"v":312},{"s":"b16","t":1035,"v":318},{"s":"b16","t":1080,"v":312},{"s":"b16","t":1125,"v":292},{"s":"b16","t":1155,"v":260},{"s":"b16","t":1185,"v":220},{"s":"b16","t":1215,"v":265},{"s":"b16","t":1245,"v":350},{"s":"b16","t":1290,"v":395},{"s":"b16","t":1350,"v":402},{"s":"b16","t":1440,"v":405},
{"s":"b17","t":15,"v":408},{"s":"b17","t":90,"v":410},{"s":"b17","t":330,"v":412},{"s":"b17","t":390,"v":410},{"s":"b17","t":450,"v":395},{"s":"b17","t":510,"v":370},{"s":"b17","t":570,"v":345},{"s":"b17","t":630,"v":322},{"s":"b17","t":690,"v":300},{"s":"b17","t":735,"v":275},{"s":"b17","t":780,"v":225},{"s":"b17","t":810,"v":175},{"s":"b17","t":825,"v":148},{"s":"b17","t":840,"v":150},{"s":"b17","t":870,"v":200},{"s":"b17","t":900,"v":262},{"s":"b17","t":945,"v":305},{"s":"b17","t":990,"v":325},{"s":"b17","t":1035,"v":330},{"s":"b17","t":1080,"v":322},{"s":"b17","t":1125,"v":300},{"s":"b17","t":1155,"v":270},{"s":"b17","t":1185,"v":225},{"s":"b17","t":1215,"v":272},{"s":"b17","t":1245,"v":358},{"s":"b17","t":1290,"v":402},{"s":"b17","t":1350,"v":412},{"s":"b17","t":1440,"v":415},
{"s":"b18","t":15,"v":418},{"s":"b18","t":90,"v":420},{"s":"b18","t":330,"v":422},{"s":"b18","t":390,"v":420},{"s":"b18","t":450,"v":418},{"s":"b18","t":510,"v":415},{"s":"b18","t":570,"v":408},{"s":"b18","t":630,"v":395},{"s":"b18","t":690,"v":380},{"s":"b18","t":735,"v":355},{"s":"b18","t":780,"v":300},{"s":"b18","t":810,"v":240},{"s":"b18","t":825,"v":215},{"s":"b18","t":840,"v":218},{"s":"b18","t":870,"v":262},{"s":"b18","t":900,"v":320},{"s":"b18","t":945,"v":350},{"s":"b18","t":990,"v":360},{"s":"b18","t":1035,"v":362},{"s":"b18","t":1080,"v":358},{"s":"b18","t":1125,"v":335},{"s":"b18","t":1155,"v":305},{"s":"b18","t":1185,"v":260},{"s":"b18","t":1215,"v":308},{"s":"b18","t":1245,"v":385},{"s":"b18","t":1290,"v":422},{"s":"b18","t":1350,"v":430},{"s":"b18","t":1440,"v":432},
{"s":"b19","t":15,"v":426},{"s":"b19","t":90,"v":428},{"s":"b19","t":330,"v":430},{"s":"b19","t":390,"v":428},{"s":"b19","t":450,"v":425},{"s":"b19","t":510,"v":420},{"s":"b19","t":570,"v":412},{"s":"b19","t":630,"v":400},{"s":"b19","t":690,"v":385},{"s":"b19","t":735,"v":362},{"s":"b19","t":780,"v":310},{"s":"b19","t":810,"v":255},{"s":"b19","t":825,"v":230},{"s":"b19","t":840,"v":232},{"s":"b19","t":870,"v":268},{"s":"b19","t":900,"v":318},{"s":"b19","t":945,"v":340},{"s":"b19","t":990,"v":348},{"s":"b19","t":1035,"v":352},{"s":"b19","t":1080,"v":345},{"s":"b19","t":1125,"v":322},{"s":"b19","t":1155,"v":292},{"s":"b19","t":1185,"v":250},{"s":"b19","t":1215,"v":300},{"s":"b19","t":1245,"v":380},{"s":"b19","t":1290,"v":420},{"s":"b19","t":1350,"v":428},{"s":"b19","t":1440,"v":430}
]},
"mark":{"type":"line","strokeWidth":2.8,"clip":true,"strokeJoin":"round","strokeCap":"round"},
"encoding":{
"x":{"field":"t","type":"quantitative","scale":{"domain":[7.5,1419],"nice":false,"zero":false},
"axis":{"title":null,"values":[15,60,105,150,195,240,285,330,375,420,465,510,555,600,645,690,735,780,825,870,915,960,1005,1050,1095,1140,1185,1230,1275,1320,1365,1410],
"labelExpr":"timeFormat(datetime(2000,0,1,0,datum.value),'%H:%M')","labelAngle":270,"labelFontSize":12.5,"labelColor":"#595959","labelFont":"Lato","labelPadding":7,"ticks":false,"grid":false,"domainColor":"#D9D9D9","labelOverlap":false,"labelBound":false}},
"y":{"field":"v","type":"quantitative","scale":{"domain":[0,450],"nice":false},
"axis":{"title":null,"values":[0,50,100,150,200,250,300,350,400,450],"labelFontSize":14,"labelColor":"#595959","labelFont":"Lato","labelPadding":14,"ticks":false,"domain":false,"gridColor":"#D9D9D9","gridWidth":1}},
"color":{"field":"s","type":"nominal","legend":null,"sort":null,
"scale":{"domain":["a1","a2","a3","a4","a5","a6","a7","a8","a9","a10","a11","a12","a13","a14","a15","a16","a17","a18","a19","a20","a21","a22","a23","a24","a25","b1","b2","b3","b4","b5","b6","b7","b8","b9","b10","b11","b12","b13","b14","b15","b16","b17","b18","b19"],
"range":["#4472C4","#ED7D31","#A5A5A5","#FFC000","#5B9BD5","#70AD47","#255E91","#9E480E","#636363","#CC9A00","#3C7DC4","#43682B","#698ED0","#F1975A","#B7B7B7","#FFCD33","#7CAFDD","#A9D18E","#335AA1","#C55A11","#848484","#FFD966","#264478","#8CC168","#843C0C","#943F0C","#997300","#A5A5A5","#4472C4","#636363","#ED7D31","#70AD47","#8FAADC","#A9D18E","#D26012","#264478","#5B9BD5","#43682B","#5A8A39","#9DC3E6","#FFC000","#F4B183","#7CAFDD","#CC9A00"]}}
}
}
